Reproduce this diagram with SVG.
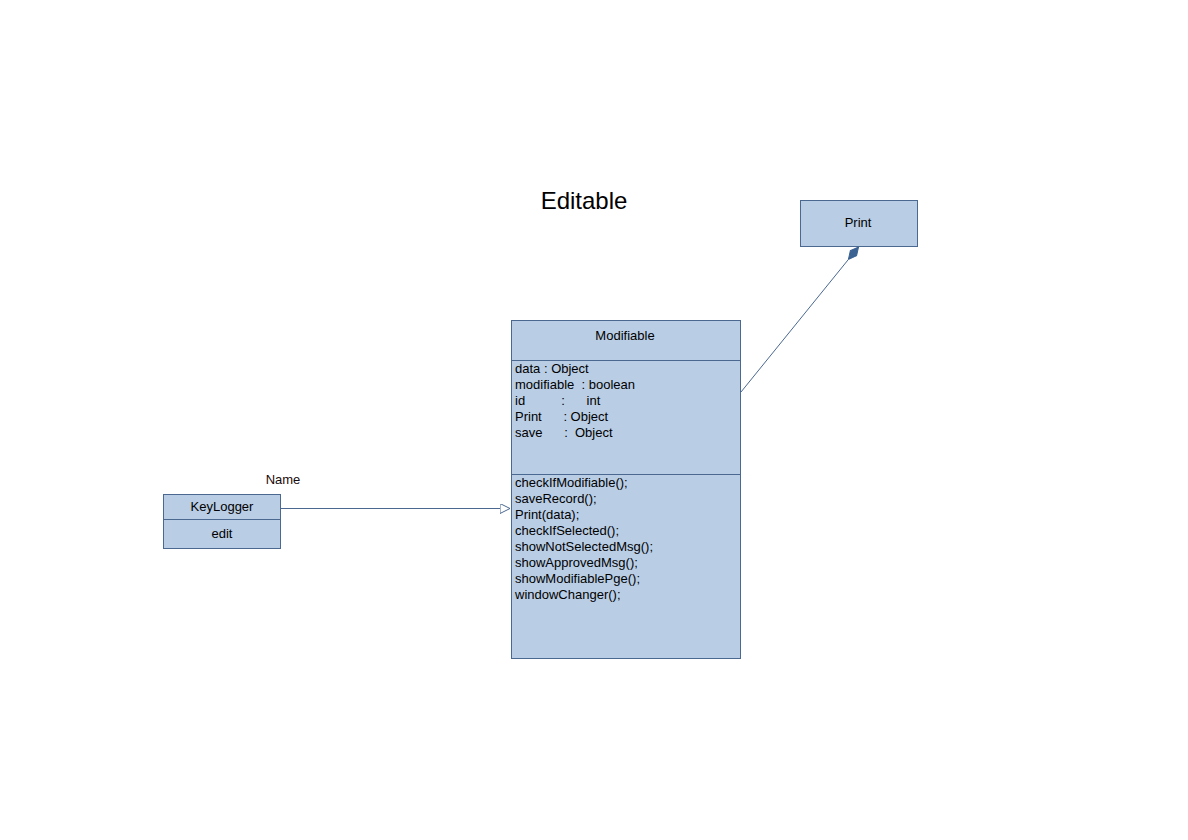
<svg xmlns="http://www.w3.org/2000/svg" width="1188" height="840" viewBox="0 0 1188 840">
<style>
.box{fill:#b9cde5;stroke:#4a6890;stroke-width:1}
.sep{stroke:#4a6890;stroke-width:1}
.t{font-family:"Liberation Sans",Arial,sans-serif;font-size:13px;fill:#000}
.c{text-anchor:middle}
.con{stroke:#4a6890;stroke-width:1;fill:none}
</style>
<defs>
<marker id="tri" markerWidth="12" markerHeight="12" refX="10" refY="5" orient="auto" markerUnits="userSpaceOnUse">
<path d="M0,0 L10,5 L0,10 Z" fill="#fff" stroke="#4a6890" stroke-width="1"/>
</marker>
<marker id="dia" markerWidth="20" markerHeight="12" refX="16" refY="5" orient="auto" markerUnits="userSpaceOnUse">
<path d="M0,5 L8,1 L16,5 L8,9 Z" fill="#3a6293" stroke="#3a6293" stroke-width="1"/>
</marker>
</defs>
<rect width="1188" height="840" fill="#fff"/>
<text x="584" y="209" class="t c" style="font-size:24px">Editable</text>
<g id="connectors">
<line class="con" x1="281" y1="508.5" x2="510" y2="508.5" marker-end="url(#tri)"/>
<line class="con" x1="741" y1="392" x2="858.5" y2="247" marker-end="url(#dia)"/>
</g>
<g id="print">
<rect class="box" x="800.5" y="200.5" width="117" height="46"/>
<text x="858" y="227" class="t c">Print</text>
</g>
<g id="modifiable">
<rect class="box" x="511.5" y="320.5" width="229" height="338"/>
<line class="sep" x1="511.5" y1="360.5" x2="740.5" y2="360.5"/>
<line class="sep" x1="511.5" y1="474.5" x2="740.5" y2="474.5"/>
<text x="625" y="340" class="t c">Modifiable</text>
<text class="t" xml:space="preserve"><tspan x="515" y="373">data : Object</tspan><tspan x="515" y="389">modifiable  : boolean</tspan><tspan x="515" y="405">id          :      int</tspan><tspan x="515" y="421">Print      : Object</tspan><tspan x="515" y="437">save      :  Object</tspan></text>
<text class="t"><tspan x="515" y="487">checkIfModifiable();</tspan><tspan x="515" y="503">saveRecord();</tspan><tspan x="515" y="519">Print(data);</tspan><tspan x="515" y="535">checkIfSelected();</tspan><tspan x="515" y="551">showNotSelectedMsg();</tspan><tspan x="515" y="567">showApprovedMsg();</tspan><tspan x="515" y="583">showModifiablePge();</tspan><tspan x="515" y="599">windowChanger();</tspan></text>
</g>
<g id="keylogger">
<rect class="box" x="163.5" y="494.5" width="117" height="54"/>
<line class="sep" x1="163.5" y1="519.5" x2="280.5" y2="519.5"/>
<text x="222" y="511" class="t c">KeyLogger</text>
<text x="222" y="538" class="t c">edit</text>
<text x="283" y="484" class="t c" style="fill:#1a0a0a">Name</text>
</g>
</svg>
